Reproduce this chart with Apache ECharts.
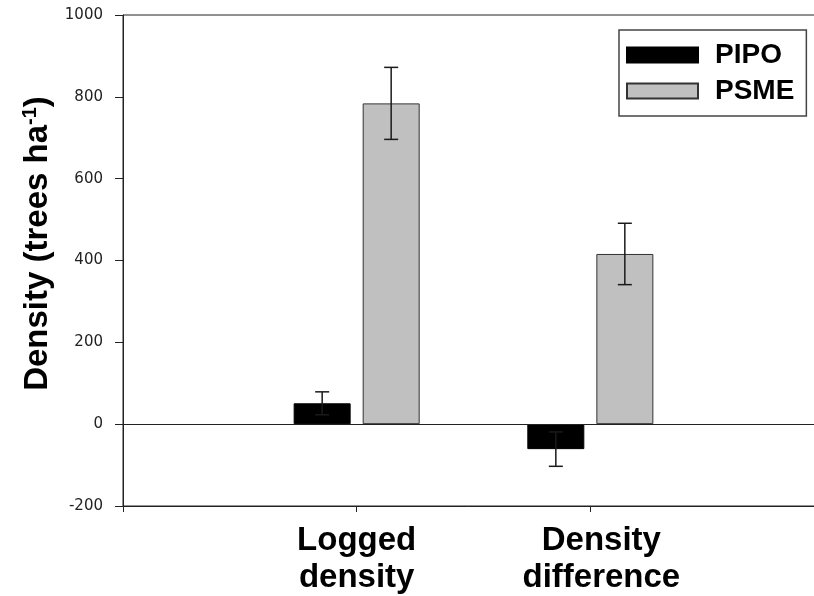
<!DOCTYPE html>
<html>
<head>
<meta charset="utf-8">
<script src="https://cdn.jsdelivr.net/npm/echarts@6/dist/echarts.min.js"></script>
<style>
    html, body { margin: 0; padding: 0; background: #fff; }
    #chart { width: 814px; height: 596px; }
</style>
</head>
<body>
<div id="chart"></div>
<script>
// 数据
var categories = ['', 'Logged\ndensity', 'Density\ndifference', ''];
var seriesNames = ['PIPO', 'PSME'];
var pipoValues = ['-', 51, -61, '-'];
var psmeValues = ['-', 784, 416, '-'];
var pipoErrors = [null, 28, 42, null];
var psmeErrors = [null, 88, 75, null];
var yTicks = [-200, 0, 200, 400, 600, 800, 1000];

var BAR_W = 57;      // 柱宽
var BAR_GAP = 12;    // 组内间距
var CAP_W = 14;      // 误差线帽宽

var myChart = echarts.init(document.getElementById('chart'));

// 误差线 renderItem, offset 为柱中心相对类目中心的偏移
function errorBar(values, errors, offset) {
    return function (params, api) {
        var i = api.value(0);
        var v = values[i], e = errors[i];
        if (e == null || v === '-') return;
        var hi = api.coord([i, v + e]);
        var lo = api.coord([i, v - e]);
        var x = hi[0] + offset;
        var st = { stroke: '#1a1a1a', lineWidth: 1.5 };
        return {
            type: 'group',
            children: [
                { type: 'line', shape: { x1: x, y1: hi[1], x2: x, y2: lo[1] }, style: st },
                { type: 'line', shape: { x1: x - CAP_W / 2, y1: hi[1], x2: x + CAP_W / 2, y2: hi[1] }, style: st },
                { type: 'line', shape: { x1: x - CAP_W / 2, y1: lo[1], x2: x + CAP_W / 2, y2: lo[1] }, style: st }
            ]
        };
    };
}

var idx = categories.map(function (c, i) { return [i]; });
var half = (BAR_W + BAR_GAP) / 2;

var option = {
    animation: false,
    textStyle: { fontFamily: 'Liberation Sans' },
    grid: {
        left: 123,
        width: 701,
        top: 15,
        bottom: 90,
        show: true,
        borderColor: '#222',
        borderWidth: 1,
        containLabel: false,
        outerBoundsMode: 'none'
    },
    legend: {
        data: seriesNames,
        left: 619,
        top: 30,
        orient: 'vertical',
        selectedMode: false,
        icon: 'rect',
        itemWidth: 71,
        itemHeight: 15,
        itemGap: 8,
        padding: [11, 12, 11, 7],
        borderColor: '#444',
        borderWidth: 1.5,
        backgroundColor: '#fff',
        textStyle: {
            fontFamily: 'Liberation Sans',
            fontWeight: 'bold',
            fontSize: 28,
            color: '#000',
            padding: [0, 0, 0, 12]
        }
    },
    xAxis: {
        type: 'category',
        data: [
            categories[0],
            categories[1],
            { value: categories[2], textStyle: { padding: [0, 0, 0, 22] } },
            categories[3]
        ],
        boundaryGap: false,
        axisLine: { onZero: false, lineStyle: { color: '#222', width: 1 } },
        axisTick: { show: true, length: 6, lineStyle: { color: '#222' } },
        axisLabel: {
            interval: 0,
            margin: 16,
            fontFamily: 'Liberation Sans',
            fontWeight: 'bold',
            fontSize: 33,
            lineHeight: 37,
            color: '#000'
        },
        splitLine: { show: false }
    },
    yAxis: {
        type: 'value',
        min: yTicks[0],
        max: yTicks[yTicks.length - 1],
        interval: 200,
        name: 'Density (trees ha{sup|-1})',
        nameLocation: 'middle',
        nameGap: 58,
        nameTextStyle: {
            fontFamily: 'Liberation Sans',
            fontWeight: 'bold',
            fontSize: 33,
            color: '#000',
            padding: [0, 0, 0, 34],
            rich: {
                sup: {
                    fontFamily: 'Liberation Sans',
                    fontWeight: 'bold',
                    fontSize: 20,
                    color: '#000',
                    verticalAlign: 'top',
                    padding: [0, 0, 14, 0]
                }
            }
        },
        axisLine: { show: true, lineStyle: { color: '#222', width: 1 } },
        axisTick: { show: true, inside: false, length: 8, lineStyle: { color: '#222' } },
        axisLabel: {
            margin: 20,
            fontFamily: 'DejaVu Sans',
            fontSize: 15,
            color: '#222',
            formatter: function (v) { return String(v); }
        },
        splitLine: { show: false }
    },
    series: [{
        name: seriesNames[0],
        type: 'bar',
        data: pipoValues,
        barWidth: BAR_W,
        barGap: (BAR_GAP / BAR_W * 100).toFixed(1) + '%',
        itemStyle: { color: '#000', borderColor: '#000', borderWidth: 1 },
        markLine: {
            silent: true,
            symbol: 'none',
            label: { show: false },
            lineStyle: { color: '#222', width: 1, type: 'solid' },
            data: [{ yAxis: 0 }]
        },
        z: 2
    }, {
        name: seriesNames[1],
        type: 'bar',
        data: psmeValues,
        barWidth: BAR_W,
        itemStyle: { color: '#c0c0c0', borderColor: '#333', borderWidth: 1 },
        z: 2
    }, {
        type: 'custom',
        renderItem: errorBar(pipoValues, pipoErrors, -half),
        data: idx,
        z: 5,
        silent: true
    }, {
        type: 'custom',
        renderItem: errorBar(psmeValues, psmeErrors, half),
        data: idx,
        z: 5,
        silent: true
    }]
};
myChart.setOption(option);
</script>
</body>
</html>
